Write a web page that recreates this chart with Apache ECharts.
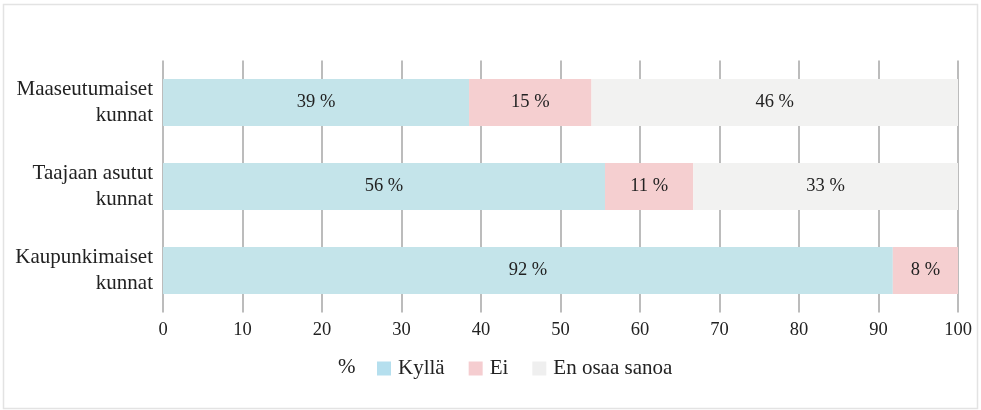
<!DOCTYPE html>
<html>
<head>
<meta charset="utf-8">
<script src="https://cdn.jsdelivr.net/npm/echarts@6/dist/echarts.min.js"></script>
<style>
  html, body { margin: 0; padding: 0; background: #fff; }
  #c { width: 981px; height: 410px; }
</style>
</head>
<body>
<div id="c"></div>
<script>
const categories = ["Maaseutumaiset\nkunnat", "Taajaan asutut\nkunnat", "Kaupunkimaiset\nkunnat"];
const kylla = [38.5, 55.6, 91.8];
const ei = [15.4, 11.1, 8.2];
const eos = [46.1, 33.3, 0];
const seriesNames = ["Kyllä", "Ei", "En osaa sanoa"];
const barColors = ["#c4e4ea", "#f5cfd0", "#f2f2f1"];
const legendColors = ["#b5dfee", "#f5cdd0", "#efefef"];

const FONT = "Liberation Serif, DejaVu Serif, serif";
const chart = echarts.init(document.getElementById("c"));
const lbl = { show: true, position: "inside", color: "#222", fontFamily: FONT, fontSize: 18.5,
  formatter: p => p.value > 0 ? Math.round(p.value) + " %" : "" };
const mk = (name, data, i) => ({
  name, type: "bar", stack: "t", data, barCategoryGap: "44%",
  itemStyle: { color: barColors[i] }, label: lbl,
  emphasis: { disabled: true },
});

chart.setOption({
  animation: false,
  textStyle: { fontFamily: FONT },
  graphic: [
    { type: "rect", shape: { x: 3.5, y: 4.5, width: 974, height: 404 }, style: { fill: "none", stroke: "#e3e3e3", lineWidth: 1.5 }, silent: true },
    { type: "text", x: 338, y: 367, style: { text: "%", font: "21px " + FONT, fill: "#222", verticalAlign: "middle" } },
  ],
  grid: { left: 163, right: 23, top: 60.5, bottom: 97.5 },
  legend: {
    left: 372, top: 353, itemWidth: 14, itemHeight: 14, itemGap: 24,
    textStyle: { fontFamily: FONT, fontSize: 21, color: "#222", padding: [0, 0, 0, 2] },
    data: seriesNames.map((n, i) => ({ name: n, icon: "rect", itemStyle: { color: legendColors[i] } })),
  },
  xAxis: {
    type: "value", min: 0, max: 100, interval: 10,
    axisLine: { show: false }, axisTick: { show: false },
    axisLabel: { color: "#222", fontFamily: FONT, fontSize: 18.5, margin: 8 },
    splitLine: { show: true, lineStyle: { color: "#a6a6a6", width: 1.5 } },
  },
  yAxis: {
    type: "category", inverse: true, data: categories,
    axisLine: { show: false }, axisTick: { show: false },
    axisLabel: { color: "#222", fontFamily: FONT, fontSize: 21, lineHeight: 26, margin: 10, align: "right" },
  },
  series: [mk(seriesNames[0], kylla, 0), mk(seriesNames[1], ei, 1), mk(seriesNames[2], eos, 2)],
});
</script>
</body>
</html>
